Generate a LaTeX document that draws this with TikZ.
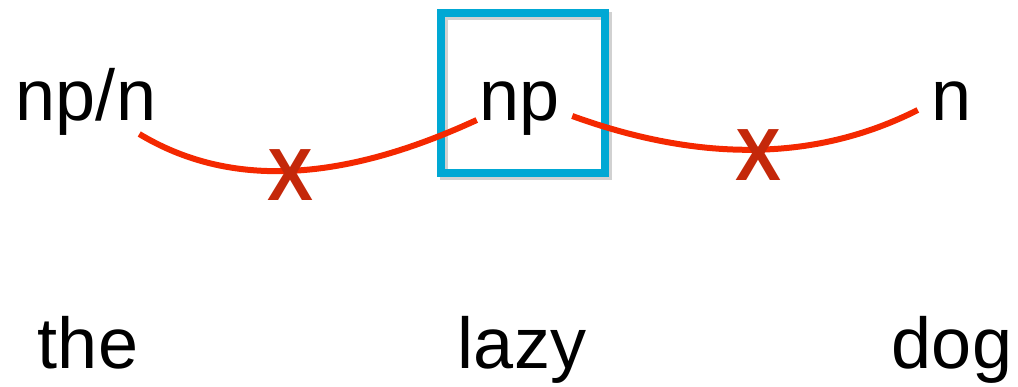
\documentclass[tikz,border=0pt]{standalone}
\usepackage{fontspec}
\setmainfont{Liberation Sans}
\usetikzlibrary{calc}
\definecolor{linkred}{RGB}{244,40,0}
\definecolor{xred}{RGB}{196,40,10}
\definecolor{boxblue}{RGB}{0,168,212}
\tikzset{
  word/.style={anchor=base,inner sep=0pt,font=\fontsize{72}{72}\selectfont},
  cat/.style={anchor=base,inner sep=0pt,font=\fontsize{72}{72}\selectfont},
  link/.style={draw=linkred,line width=6pt},
  cross/.style={inner sep=0pt,text=xred,xscale=0.93,font=\fontsize{74}{74}\selectfont\bfseries},
  hibox/.style={draw=boxblue,line width=8pt,minimum width=164pt,minimum height=160pt,inner sep=0pt},
  hishadow/.style={draw=black,opacity=0.18,line width=8pt,minimum width=164pt,minimum height=160pt,inner sep=0pt}
}
\begin{document}
\begin{tikzpicture}[x=1pt,y=-1pt]
\useasboundingbox (0,0) rectangle (1018,386);
% highlight box
\node[hishadow] (shadow) at (525.5,95.5) {};
\node[hibox] (box) at (523,93) {};
% categories
\node[cat] (npn) at (86,120) {np/n};
\node[cat] (np) at (520,120) {np};
\node[cat] (n) at (952,120) {n};
% words
\node[word] (the) at (88,368) {the};
\node[word] (lazy) at (522,368) {lazy};
\node[word] (dog) at (952,368) {dog};
% connector end points
\coordinate (a1) at ($(npn.base east)+(-17,14)$);
\coordinate (a2) at ($(np.base west)+(-3,0)$);
\coordinate (b1) at ($(np.base east)+(12,-4)$);
\coordinate (b2) at ($(n.base west)+(-14,-10)$);
% links
\draw[link] (a1) .. controls (229,188) and (340,183) .. (a2);
\draw[link] (b1) .. controls (702,163) and (817,161) .. (b2);
% crosses
\node[cross] (x1) at (290,175) {X};
\node[cross] (x2) at (758,155) {X};
\end{tikzpicture}
\end{document}
